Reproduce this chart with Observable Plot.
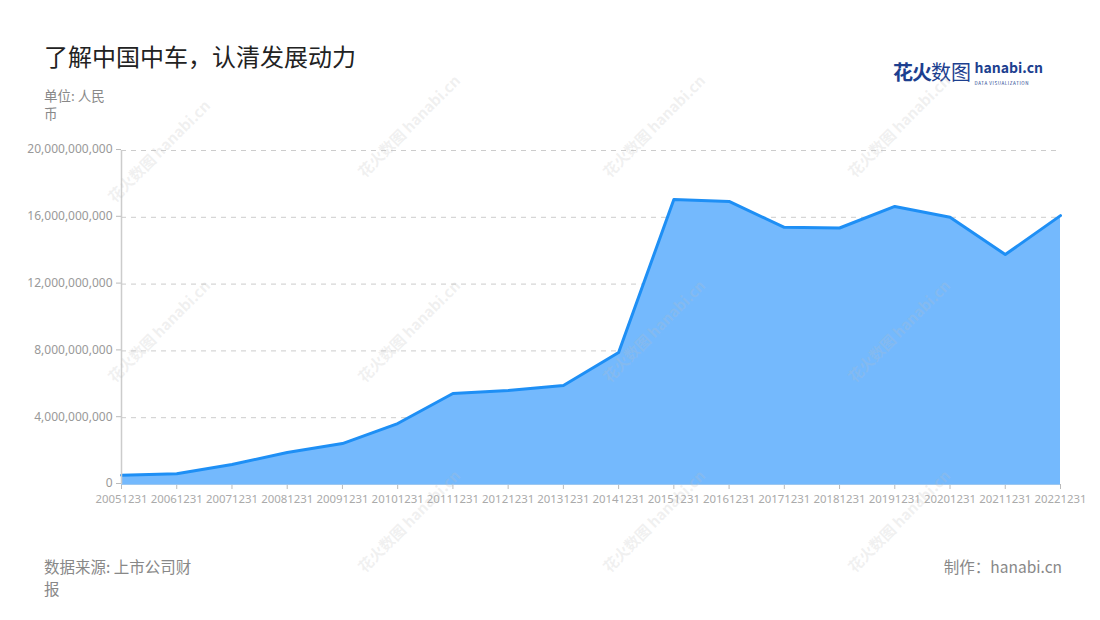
<!DOCTYPE html>
<html><head><meta charset="utf-8">
<script src="https://cdn.jsdelivr.net/npm/d3@7"></script>
<script src="https://cdn.jsdelivr.net/npm/@observablehq/plot@0.6"></script>
<style>
body{margin:0;background:#fff;font-family:"Noto Sans CJK SC","Noto Sans",sans-serif;}
#wrap{position:relative;width:1100px;height:620px;overflow:hidden;}
.abs{position:absolute;}
#title{left:44px;top:38px;font-size:24px;color:#222;}
#unit{left:44px;top:86px;width:72px;font-size:13.5px;color:#888;line-height:18px;}
#src{left:44px;top:555px;width:156px;font-size:15.5px;color:#888;line-height:22px;}
#made{right:38px;top:555px;font-size:15.5px;color:#888;}
#logo{left:893px;top:57px;}
.wm{position:absolute;color:rgba(190,190,190,0.22);font-size:15px;font-weight:bold;transform:rotate(-45deg);white-space:nowrap;pointer-events:none;}
#chart{left:0;top:140px;}
</style></head>
<body><div id="wrap">
<div id="title" class="abs">了解中国中车，认清发展动力</div>
<div id="unit" class="abs">单位: 人民币</div>
<div id="logo" class="abs"><span style="font-size:20px;font-weight:bold;color:#1d3f8f;letter-spacing:-1px">花火</span><span style="font-size:20px;color:#1d3f8f">数图</span> <span style="display:inline-block;vertical-align:top;line-height:11px;margin-top:4px"><span style="font-size:14px;font-weight:bold;color:#1d3f8f">hanabi.cn</span><br><span style="font-size:4.5px;color:#1d3f8f;letter-spacing:0.6px">DATA VISUALIZATION</span></span></div>
<div id="chart" class="abs"></div>
<div id="src" class="abs">数据来源: 上市公司财报</div>
<div id="made" class="abs">制作：hanabi.cn</div>
</div>
<script>
const years = [2005,2006,2007,2008,2009,2010,2011,2012,2013,2014,2015,2016,2017,2018,2019,2020,2021,2022];
const values = [0.56e9,0.64e9,1.2e9,1.92e9,2.45e9,3.65e9,5.45e9,5.63e9,5.93e9,7.9e9,17.07e9,16.95e9,15.4e9,15.36e9,16.65e9,16.0e9,13.77e9,16.1e9];
const yTicks = [0,4e9,8e9,12e9,16e9,20e9];
const data = years.map((y,i)=>({year:y,value:values[i]}));
const fmt = d3.format(",");
const chart = Plot.plot({
  width:1100, height:370,
  marginLeft:121, marginRight:40, marginTop:10, marginBottom:26,
  style:{fontFamily:'"Noto Sans","Noto Sans CJK SC",sans-serif',fontSize:"12px",color:"#aaa",background:"transparent"},
  x:{domain:[2005,2022],label:null},
  y:{domain:[0,20e9],label:null},
  marks:[
    Plot.gridY(yTicks.filter(d=>d>0),{stroke:"#ccc",strokeOpacity:1,strokeDasharray:"5,5"}),
    Plot.areaY(data,{x:"year",y:"value",fill:"#74b9fd",fillOpacity:1}),
    Plot.lineY(data,{x:"year",y:"value",stroke:"#1e8ff5",strokeWidth:3}),
    Plot.axisX({ticks:years,tickFormat:d=>d+"1231",stroke:"#bbb",color:"#aaa",fontSize:11.4,tickSize:5,tickPadding:5,label:null}),
    Plot.axisY({ticks:yTicks,tickFormat:fmt,stroke:"#bbb",color:"#999",fontSize:12,tickSize:5,dy:-1,label:null}),
    Plot.ruleY([0],{stroke:"#9cc7f0"}),
    Plot.ruleX([2005],{stroke:"#ccc",strokeWidth:1.5})
  ]
});
document.getElementById("chart").appendChild(chart);
// faint watermarks
const wrap=document.getElementById("wrap");
[[160,150],[410,125],[655,125],[900,125],[160,330],[410,330],[655,330],[900,330],[410,520],[655,520],[900,520]].forEach(([x,y])=>{
  const d=document.createElement("div");d.className="wm";d.textContent="花火数图 hanabi.cn";
  d.style.left=(x-70)+"px";d.style.top=(y-10)+"px";wrap.appendChild(d);
});
</script>
</body></html>
